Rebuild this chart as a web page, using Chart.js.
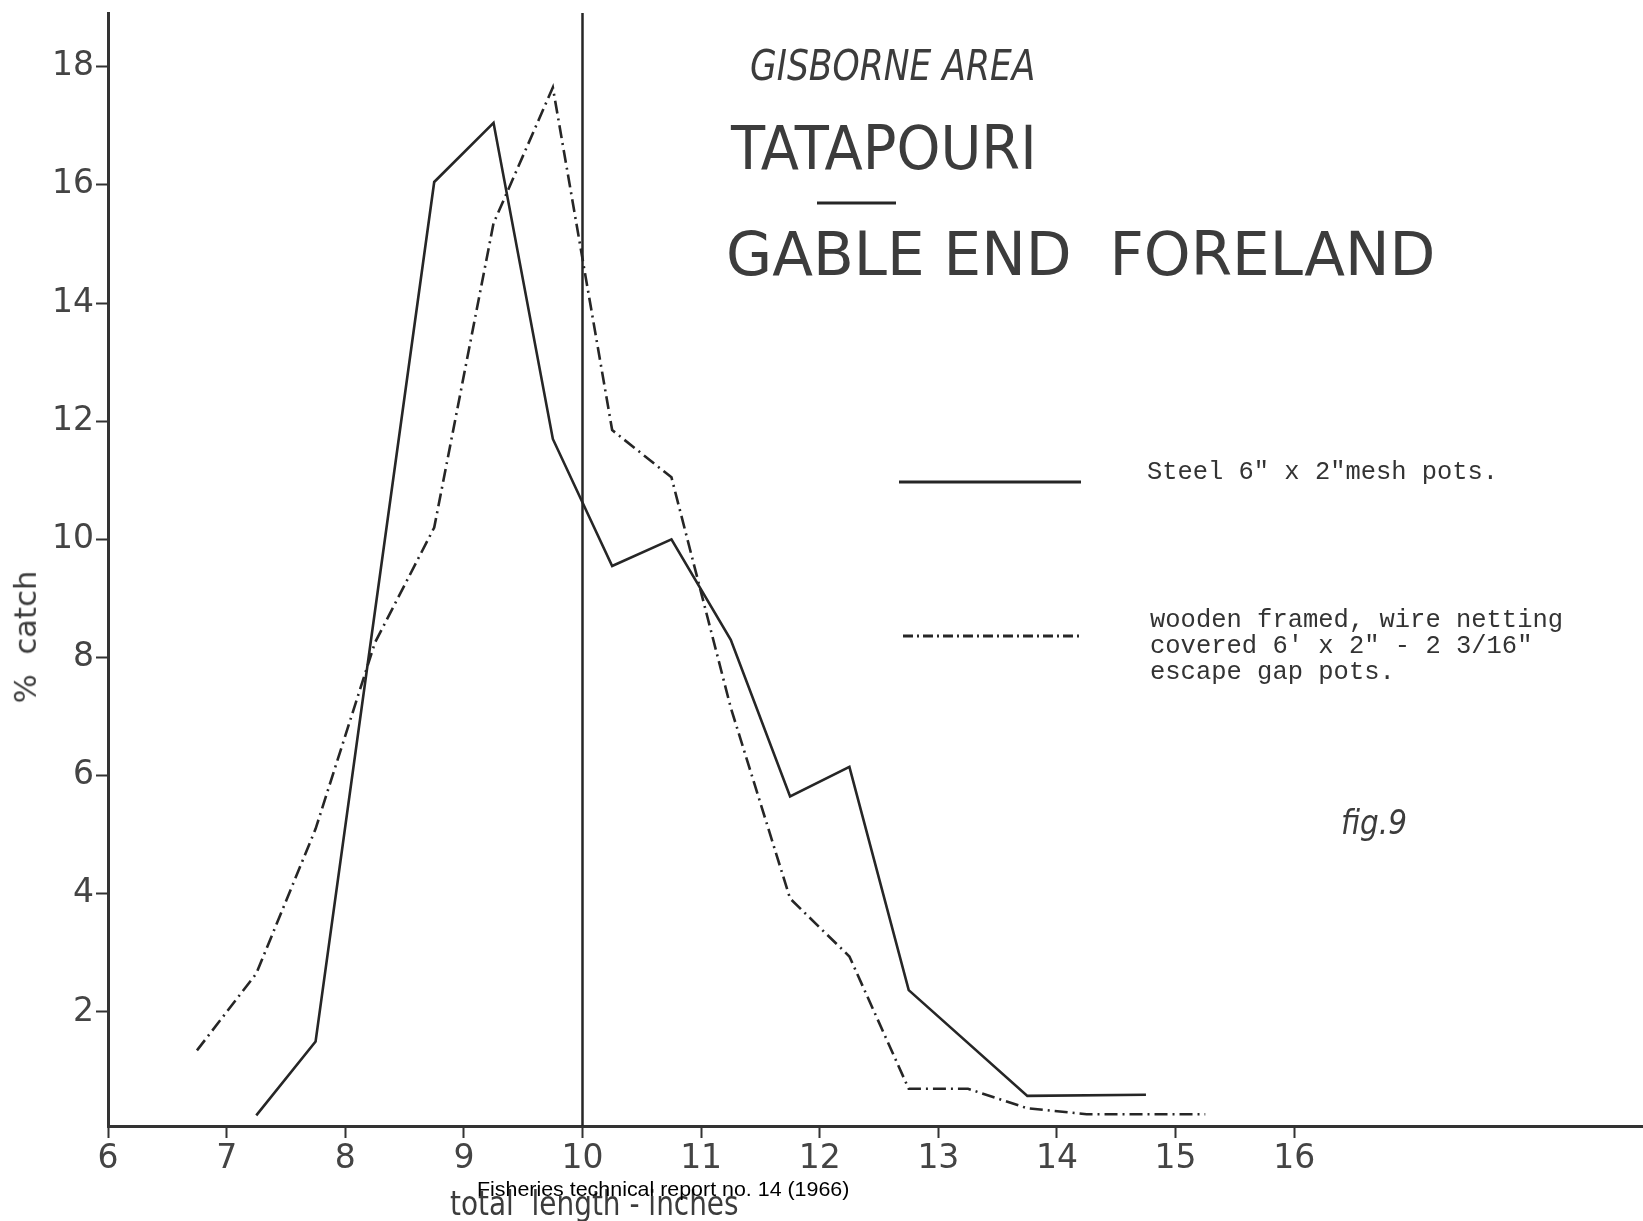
<!DOCTYPE html>
<html>
<head>
<meta charset="utf-8">
<script src="https://cdn.jsdelivr.net/npm/chart.js@4/dist/chart.umd.min.js"></script>
<style>
  html, body { margin: 0; padding: 0; background: #fff; }
  #wrap { position: relative; width: 1643px; height: 1221px; overflow: hidden; }
  #chart { position: absolute; left: 0; top: 0; }
  .txt { position: absolute; white-space: pre; transform-origin: 0 50%; color: #3c3c3c; }
  .head { font-family: "DejaVu Sans", sans-serif; }
  .typed { font-family: "Liberation Mono", "DejaVu Sans Mono", monospace; color: #333; }
</style>
</head>
<body>
<div id="wrap">
  <canvas id="chart" width="1643" height="1221"></canvas>

  <div class="txt head" data-w="285" style="left:750px; top:44px; font-size:43px; line-height:43px; font-style:italic;">GISBORNE AREA</div>
  <div class="txt head" data-w="306" style="left:731px; top:117px; font-size:61px; line-height:61px;">TATAPOURI</div>
  <div class="txt head" data-w="709" style="left:726px; top:223px; font-size:61px; line-height:61px;">GABLE END  FORELAND</div>

  <div class="txt typed" data-w="351" style="left:1147px; top:460px; font-size:25px; line-height:26px;">Steel 6" x 2"mesh pots.</div>
  <div class="txt typed" data-w="413" style="left:1150px; top:608px; font-size:25px; line-height:26px;">wooden framed, wire netting
covered 6' x 2" - 2 3/16"
escape gap pots.</div>

  <div class="txt head" data-w="66" style="left:1341px; top:805px; font-size:34px; line-height:34px; font-style:italic;">fig.9</div>

  <div class="txt head" data-w="289" style="left:450px; top:1186px; font-size:34px; line-height:34px;">total  length - inches</div>
  <div class="txt" data-w="372" style="left:477px; top:1178px; font-size:21px; line-height:22px; color:#000; font-family:'Liberation Sans', Arial, sans-serif;">Fisheries technical report no. 14 (1966)</div>

  <div id="ylab" class="txt head" style="font-size:30px; line-height:30px;">%  catch</div>
</div>

<script>
// === Data ===
const xTicks = [6, 7, 8, 9, 10, 11, 12, 13, 14, 15, 16];
const yTicks = [2, 4, 6, 8, 10, 12, 14, 16, 18];

// steel 6" x 2" mesh pots (solid)
const steelX = [7.25, 7.75, 8.75, 9.25, 9.75, 10.25, 10.75, 11.25, 11.75, 12.25, 12.75, 13.75, 14.75];
const steelY = [0.25, 1.5, 16.05, 17.05, 11.7, 9.55, 10.0, 8.3, 5.65, 6.15, 2.37, 0.58, 0.6];

// wooden framed escape gap pots (dash-dot)
const woodX = [6.75, 7.25, 7.75, 8.25, 8.75, 9.25, 9.75, 10.25, 10.75, 11.25, 11.75, 12.25, 12.75, 13.25, 13.75, 14.25, 14.75, 15.25];
const woodY = [1.35, 2.65, 5.1, 8.25, 10.2, 15.35, 17.65, 11.85, 11.05, 7.15, 3.92, 2.94, 0.7, 0.7, 0.37, 0.27, 0.27, 0.27];

// reference line at 10 inches
const refX = 10;

// the scan's axis line sits a touch above zero
const X_MIN = 6, X_MAX = 18.94;
const Y_MIN = 0.07, Y_MAX = 18.91;

const INK = "#262626";
const DASH_DOT = [13, 5, 2, 5];

// === Helpers ===
const pts = (xs, ys) => xs.map((x, i) => ({ x, y: ys[i] }));

// legend samples drawn beside the typed captions
const legendLines = {
  id: "legendLines",
  afterDraw(chart) {
    const c = chart.ctx;
    c.save();
    c.strokeStyle = INK;
    c.lineWidth = 3;
    c.beginPath();
    c.moveTo(899, 482); c.lineTo(1081, 482);
    c.stroke();
    c.setLineDash([10, 4, 2, 4]);
    c.beginPath();
    c.moveTo(903, 636); c.lineTo(1079, 636);
    c.stroke();
    c.setLineDash([]);
    c.beginPath();
    c.moveTo(817, 203); c.lineTo(896, 203);
    c.stroke();
    c.restore();
  }
};

Chart.defaults.font.family = "'DejaVu Sans', sans-serif";
Chart.defaults.color = "#444";

const ctx = document.getElementById("chart").getContext("2d");
new Chart(ctx, {
  type: "line",
  data: {
    datasets: [
      {
        label: "Steel 6\" x 2\" mesh pots",
        data: pts(steelX, steelY),
        borderColor: INK,
        borderWidth: 2.6,
        pointRadius: 0,
        tension: 0,
      },
      {
        label: "wooden framed escape gap pots",
        data: pts(woodX, woodY),
        borderColor: INK,
        borderWidth: 2.6,
        borderDash: DASH_DOT,
        pointRadius: 0,
        tension: 0,
      },
      {
        label: "10 in",
        data: [{ x: refX, y: Y_MIN }, { x: refX, y: Y_MAX }],
        borderColor: INK,
        borderWidth: 2.5,
        pointRadius: 0,
      },
    ],
  },
  options: {
    responsive: false,
    animation: false,
    layout: { padding: { top: 13, left: 0, right: 0, bottom: 0 } },
    plugins: { legend: { display: false }, tooltip: { enabled: false } },
    scales: {
      x: {
        type: "linear",
        min: X_MIN,
        max: X_MAX,
        border: { color: "#333", width: 3 },
        grid: { drawOnChartArea: false, drawTicks: true, tickLength: 12, tickWidth: 2, tickColor: "#333" },
        ticks: { font: { size: 33 }, color: "#444", padding: 2, autoSkip: false, maxRotation: 0 },
        afterBuildTicks: (s) => { s.ticks = xTicks.map(v => ({ value: v })); },
        afterFit: (s) => { s.height = 95; s.paddingLeft = 0; s.paddingRight = 0; },
      },
      y: {
        type: "linear",
        min: Y_MIN,
        max: Y_MAX,
        border: { color: "#333", width: 3 },
        grid: { drawOnChartArea: false, drawTicks: true, tickLength: 12, tickWidth: 2, tickColor: "#333" },
        ticks: { font: { size: 33 }, color: "#444", padding: 2 },
        afterBuildTicks: (s) => { s.ticks = yTicks.map(v => ({ value: v })); },
        afterFit: (s) => { s.width = 108; s.paddingTop = 0; s.paddingBottom = 0; },
      },
    },
  },
  plugins: [legendLines],
});

// === Squeeze/stretch captions to the widths measured on the scan ===
document.querySelectorAll(".txt[data-w]").forEach(el => {
  const w = el.offsetWidth;
  const target = Number(el.dataset.w);
  el.style.transform = `scaleX(${target / w})`;
});

// rotated y label, centred at (26, 637)
const yl = document.getElementById("ylab");
const yw = yl.offsetWidth, yh = yl.offsetHeight;
const sc = 133 / yw;
yl.style.left = `${26 - yw / 2}px`;
yl.style.top = `${637 - yh / 2}px`;
yl.style.transformOrigin = "50% 50%";
yl.style.transform = `rotate(-90deg) scaleX(${sc})`;
</script>
</body>
</html>
